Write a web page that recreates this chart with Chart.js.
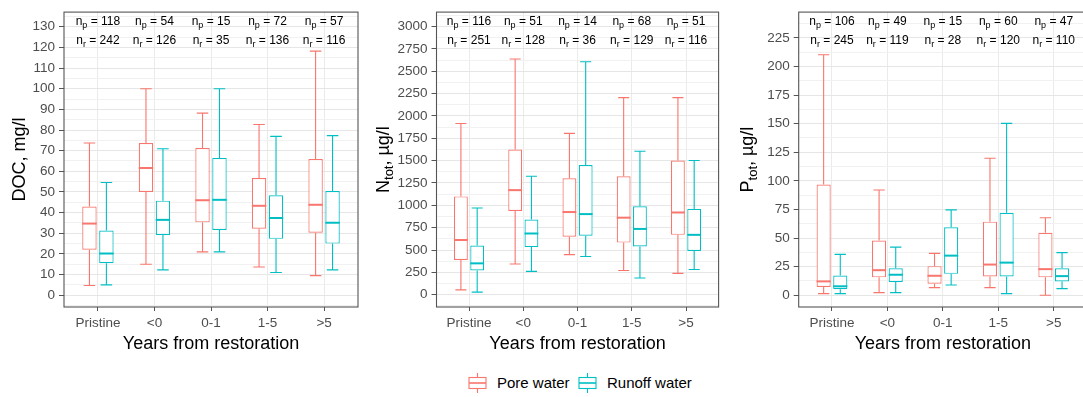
<!DOCTYPE html>
<html>
<head>
<meta charset="utf-8">
<title>Boxplots by years from restoration</title>
<script src="https://cdn.jsdelivr.net/npm/chart.js@4.4.1/dist/chart.umd.min.js"></script>
<style>
  body { margin: 0; width: 1083px; height: 397px; overflow: hidden; background: #fff;
         font-family: "Liberation Sans", Arial, sans-serif; position: relative; }
  .panel { position: absolute; top: 0; height: 360px; }
  .legend { position: absolute; top: 373px; left: 0; height: 20px; font-size: 15px; color: #000; }
  .legend span { position: absolute; top: 1px; white-space: nowrap; }
  .legend svg { position: absolute; top: 0; }
</style>
</head>
<body>
<div class="panel" style="left:0;width:362px"><canvas id="docChart"></canvas></div>
<div class="panel" style="left:362px;width:360px"><canvas id="nChart"></canvas></div>
<div class="panel" style="left:722px;width:370px"><canvas id="pChart"></canvas></div>

<div class="legend">
  <svg style="left:468px" width="19" height="20">
    <line x1="9.5" y1="0" x2="9.5" y2="4" stroke="#F8766D" stroke-width="1.1"/>
    <rect x="1" y="4.5" width="17" height="11" fill="#fff" stroke="#F8766D" stroke-width="1.1"/>
    <line x1="1" y1="10" x2="18" y2="10" stroke="#F8766D" stroke-width="1.6"/>
    <line x1="9.5" y1="16" x2="9.5" y2="20" stroke="#F8766D" stroke-width="1.1"/>
  </svg>
  <span style="left:497px">Pore water</span>
  <svg style="left:578px" width="19" height="20">
    <line x1="9.5" y1="0" x2="9.5" y2="4" stroke="#00BFC4" stroke-width="1.1"/>
    <rect x="1" y="4.5" width="17" height="11" fill="#fff" stroke="#00BFC4" stroke-width="1.1"/>
    <line x1="1" y1="10" x2="18" y2="10" stroke="#00BFC4" stroke-width="1.6"/>
    <line x1="9.5" y1="16" x2="9.5" y2="20" stroke="#00BFC4" stroke-width="1.1"/>
  </svg>
  <span style="left:607px">Runoff water</span>
</div>

<script>
const categories = ["Pristine", "<0", "0-1", "1-5", ">5"];

// each entry: [lower whisker, Q1, median, Q3, upper whisker]
const docPore = [[4.7, 22, 34.7, 43, 73.7], [15, 50, 61.6, 73.7, 100], [21, 35.3, 46, 71.3, 88.2], [13.7, 32.2, 43.3, 56.8, 82.7], [9.5, 30.3, 43.8, 66, 118.2]];
const docRunoff = [[5, 15.5, 20.2, 31.3, 54.6], [12.3, 29.2, 36.5, 45.8, 70.9], [21, 31.6, 46.2, 66.5, 100], [11, 27.3, 37.4, 48.4, 76.9], [12.3, 25, 35.1, 50.5, 77.3]];
const nPore = [[54, 388, 612, 1100, 1915], [344, 938, 1170, 1625, 2636], [449, 649, 925, 1302, 1805], [272, 583, 862, 1325, 2205], [239, 670, 920, 1502, 2205]];
const nRunoff = [[29, 272, 351, 551, 971], [261, 533, 685, 841, 1325], [428, 659, 902, 1451, 2605], [188, 540, 736, 989, 1605], [283, 489, 670, 960, 1502]];
const pPore = [[1.4, 7.2, 12.1, 96.8, 210.2], [2.3, 15.6, 21.9, 47.8, 92], [6.6, 10.1, 17, 25.4, 36.6], [6.6, 16.4, 26.8, 64.3, 119.8], [0, 15.6, 22.8, 54.5, 67.7]];
const pRunoff = [[1.4, 5.2, 7.8, 17.3, 35.7], [2.3, 11.5, 17.9, 23.6, 42], [8.9, 18.7, 34.6, 59.4, 74.6], [1.4, 16.4, 28.5, 72, 150.2], [5.8, 12.1, 16.7, 23.6, 37.2]];

const docCountPore = [118, 54, 15, 72, 57];
const docCountRunoff = [242, 126, 35, 136, 116];
const nCountPore = [116, 51, 14, 68, 51];
const nCountRunoff = [251, 128, 36, 129, 116];
const pCountPore = [106, 49, 15, 60, 47];
const pCountRunoff = [245, 119, 28, 120, 110];

const docTicks = [0, 10, 20, 30, 40, 50, 60, 70, 80, 90, 100, 110, 120, 130];
const nTicks = [0, 250, 500, 750, 1000, 1250, 1500, 1750, 2000, 2250, 2500, 2750, 3000];
const pTicks = [0, 25, 50, 75, 100, 125, 150, 175, 200, 225];

const poreColor = "#F8766D";
const runoffColor = "#00BFC4";
const fontFamily = '"Liberation Sans", Arial, sans-serif';

function buildYTicks(major, min, max) {
  const step = major[1] - major[0];
  const list = major.map(v => ({ value: v, major: true }));
  for (let v = major[0] - step / 2; v <= max; v += step) {
    if (v >= min) list.push({ value: v, major: false });
  }
  return list.sort((a, b) => a.value - b.value);
}

const boxPlugin = {
  id: "boxWhiskers",
  afterDatasetsDraw(chart) {
    const ctx = chart.ctx;
    const y = chart.scales.y;
    chart.data.datasets.forEach((ds, d) => {
      const meta = chart.getDatasetMeta(d);
      meta.data.forEach((bar, i) => {
        const [lo, q1, med, q3, hi] = ds.stats[i];
        const half = bar.width / 2;
        const cap = bar.width * 0.4;
        ctx.save();
        ctx.strokeStyle = ds.borderColor;
        ctx.lineWidth = 1.1;
        ctx.beginPath();
        ctx.moveTo(bar.x, y.getPixelForValue(q3));
        ctx.lineTo(bar.x, y.getPixelForValue(hi));
        ctx.moveTo(bar.x, y.getPixelForValue(q1));
        ctx.lineTo(bar.x, y.getPixelForValue(lo));
        ctx.moveTo(bar.x - cap, y.getPixelForValue(hi));
        ctx.lineTo(bar.x + cap, y.getPixelForValue(hi));
        ctx.moveTo(bar.x - cap, y.getPixelForValue(lo));
        ctx.lineTo(bar.x + cap, y.getPixelForValue(lo));
        ctx.stroke();
        ctx.lineWidth = 2;
        ctx.beginPath();
        ctx.moveTo(bar.x - half, y.getPixelForValue(med));
        ctx.lineTo(bar.x + half, y.getPixelForValue(med));
        ctx.stroke();
        ctx.restore();
      });
    });
  }
};

// text with subscripts: parts = [{t, sub}]
function drawParts(ctx, parts, x, y, size, subSize, shift, align) {
  const widths = parts.map(p => {
    ctx.font = (p.sub ? subSize : size) + "px " + fontFamily;
    return ctx.measureText(p.t).width;
  });
  const total = widths.reduce((a, b) => a + b, 0);
  let cx = align === "center" ? x - total / 2 : x;
  parts.forEach((p, k) => {
    ctx.font = (p.sub ? subSize : size) + "px " + fontFamily;
    ctx.fillText(p.t, cx, p.sub ? y + shift : y);
    cx += widths[k];
  });
}

const decorPlugin = {
  id: "decor",
  afterDraw(chart) {
    const ctx = chart.ctx;
    const area = chart.chartArea;
    const x = chart.scales.x;
    const opts = chart.options.plugins.decor;
    ctx.save();
    // panel border
    ctx.strokeStyle = "#555555";
    ctx.lineWidth = 1.1;
    ctx.strokeRect(area.left, area.top, area.right - area.left, area.bottom - area.top);
    // group sizes
    ctx.fillStyle = "#000";
    ctx.textBaseline = "middle";
    ctx.textAlign = "left";
    categories.forEach((c, i) => {
      const px = x.getPixelForValue(i);
      drawParts(ctx, [{ t: "n" }, { t: "p", sub: true }, { t: " = " + opts.countPore[i] }], px, area.top + 10, 12, 9, 3, "center");
      drawParts(ctx, [{ t: "n" }, { t: "r", sub: true }, { t: " = " + opts.countRunoff[i] }], px, area.top + 29, 12, 9, 3, "center");
    });
    // y title
    ctx.translate(opts.titleX, (area.top + area.bottom) / 2);
    ctx.rotate(-Math.PI / 2);
    ctx.textBaseline = "alphabetic";
    drawParts(ctx, opts.title, 0, 0, 18, 13, 4, "center");
    ctx.restore();
  }
};

function makePanel(id, cfg) {
  const yTicks = buildYTicks(cfg.ticks, cfg.min, cfg.max);
  new Chart(document.getElementById(id), {
    type: "bar",
    data: {
      datasets: [
        {
          label: "Pore water",
          data: cfg.pore.map((s, i) => ({ x: i, y: [s[1], s[3]] })),
          stats: cfg.pore,
          borderColor: poreColor,
          backgroundColor: "#ffffff",
        },
        {
          label: "Runoff water",
          data: cfg.runoff.map((s, i) => ({ x: i, y: [s[1], s[3]] })),
          stats: cfg.runoff,
          borderColor: runoffColor,
          backgroundColor: "#ffffff",
        },
      ],
    },
    options: {
      responsive: true,
      maintainAspectRatio: false,
      animation: false,
      layout: { padding: { left: 0, right: cfg.padRight, top: 6, bottom: 0 } },
      datasets: {
        bar: {
          borderWidth: 1.2,
          borderSkipped: false,
          categoryPercentage: 0.6,
          barPercentage: 0.85,
        },
      },
      scales: {
        x: {
          type: "linear",
          min: -0.6,
          max: 4.6,
          offset: false,
          afterBuildTicks: (s) => { s.ticks = categories.map((c, i) => ({ value: i })); },
          afterFit: (s) => { s.height = 53; },
          ticks: {
            autoSkip: false,
            maxRotation: 0,
            padding: 4,
            color: "#4d4d4d",
            font: { family: fontFamily, size: 13.5 },
            callback: (v) => categories[v],
          },
          grid: { offset: false, color: "#ebebeb", lineWidth: 1, tickLength: 4, tickColor: "#555555" },
          border: { display: false },
          title: {
            display: true,
            text: "Years from restoration",
            color: "#000",
            font: { family: fontFamily, size: 18 },
            padding: { top: 0, bottom: 5 },
          },
        },
        y: {
          min: cfg.min,
          max: cfg.max,
          afterBuildTicks: (s) => { s.ticks = yTicks.map(t => ({ value: t.value, major: t.major })); },
          afterFit: (s) => { s.width = cfg.axisWidth; },
          ticks: {
            autoSkip: false,
            padding: 4,
            color: "#4d4d4d",
            font: { family: fontFamily, size: 13.5 },
            callback: (v) => (cfg.ticks.includes(v) ? String(v) : ""),
          },
          grid: {
            color: (c) => (c.tick && c.tick.major ? "#e6e6e6" : "#f1f1f1"),
            lineWidth: 1,
            tickLength: 5,
            tickColor: (c) => (c.tick && c.tick.major ? "#555555" : "rgba(0,0,0,0)"),
          },
          border: { display: false },
        },
      },
      plugins: {
        legend: { display: false },
        tooltip: { enabled: false },
        decor: {
          countPore: cfg.countPore,
          countRunoff: cfg.countRunoff,
          title: cfg.title,
          titleX: cfg.titleX,
        },
      },
    },
    plugins: [boxPlugin, decorPlugin],
  });
}

makePanel("docChart", {
  pore: docPore, runoff: docRunoff, countPore: docCountPore, countRunoff: docCountRunoff,
  ticks: docTicks, min: -5.7, max: 137.1, axisWidth: 64, padRight: 4, titleX: 25,
  title: [{ t: "DOC, mg/l" }],
});
makePanel("nChart", {
  pore: nPore, runoff: nRunoff, countPore: nCountPore, countRunoff: nCountRunoff,
  ticks: nTicks, min: -137, max: 3161, axisWidth: 74.5, padRight: 3.4, titleX: 27,
  title: [{ t: "N" }, { t: "tot", sub: true }, { t: ", µg/l" }],
});
makePanel("pChart", {
  pore: pPore, runoff: pRunoff, countPore: pCountPore, countRunoff: pCountRunoff,
  ticks: pTicks, min: -10.3, max: 247.5, axisWidth: 76.7, padRight: 5, titleX: 31,
  title: [{ t: "P" }, { t: "tot", sub: true }, { t: ", µg/l" }],
});
</script>
</body>
</html>
